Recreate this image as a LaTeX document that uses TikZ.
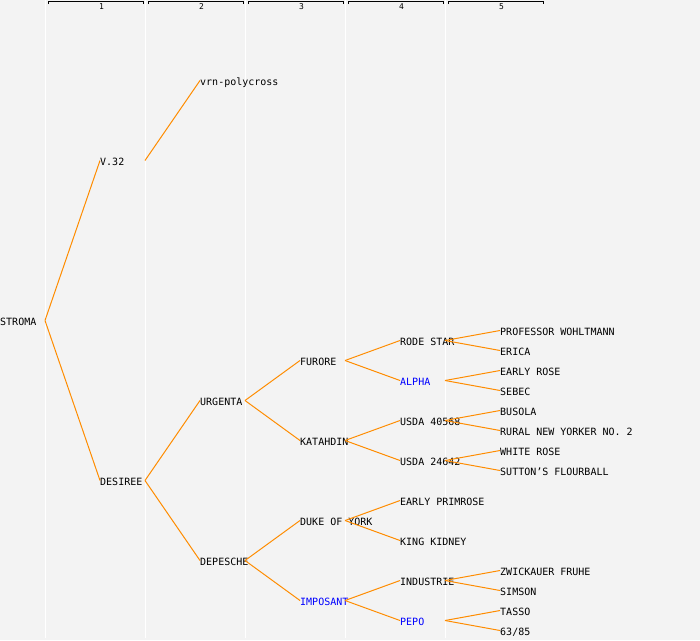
\documentclass[tikz,border=0pt]{standalone}
\usepackage{fontspec}
\setmonofont{DejaVu Sans Mono}
\definecolor{bgGray}{HTML}{F3F3F3}
\definecolor{edgeOrange}{HTML}{FF8C00}
\begin{document}
\begin{tikzpicture}
[x=1pt,y=-1pt,
  lineDecorate/.style={-,line width=1pt,edgeOrange},%
  nodeDecorate/.style={anchor=west,inner sep=0pt,text height=7.3pt,text depth=0pt,
    font=\ttfamily\fontsize{10}{12}\selectfont},
  sepDecorate/.style={white,line width=1pt},
  rulerDecorate/.style={black,line width=1pt},
  rulerText/.style={inner sep=0pt,font=\ttfamily\fontsize{8}{9}\selectfont}]
%% background and page size
\fill[bgGray] (0,0) rectangle (700,640);
\useasboundingbox (0,0) rectangle (700,640);
%% column separators
\foreach \s in {45,145,245,345,445}
{
  \draw[sepDecorate] (\s,0) -- (\s,638);
}
%% generation ruler
\foreach \k in {1,...,5}
{
  \draw[rulerDecorate] (100*\k-52,4) -- (100*\k-52,1.5) -- (100*\k+43,1.5) -- (100*\k+43,4);
  \node (col\k) at (100*\k+1.5,6.5) [rulerText] {\k};
}
%% nodes or varieties
\foreach \nodename/\x/\y/\col/\name in {
  stroma/0/322/black/STROMA,
  v32/100/162/black/V.32, desiree/100/482/black/DESIREE,
  vrn/200/82/black/vrn-polycross, urgenta/200/402/black/URGENTA,
  depesche/200/562/black/DEPESCHE,
  furore/300/362/black/FURORE, katahdin/300/442/black/KATAHDIN,
  duke/300/522/black/DUKE OF YORK, imposant/300/602/blue/IMPOSANT,
  rodestar/400/342/black/RODE STAR, alpha/400/382/blue/ALPHA,
  usdaA/400/422/black/USDA 40568, usdaB/400/462/black/USDA 24642,
  primrose/400/502/black/EARLY PRIMROSE, kidney/400/542/black/KING KIDNEY,
  industrie/400/582/black/INDUSTRIE, pepo/400/622/blue/PEPO,
  wohltmann/500/332/black/PROFESSOR WOHLTMANN, erica/500/352/black/ERICA,
  earlyrose/500/372/black/EARLY ROSE, sebec/500/392/black/SEBEC,
  busola/500/412/black/BUSOLA, rural/500/432/black/RURAL NEW YORKER NO. 2,
  whiterose/500/452/black/WHITE ROSE, sutton/500/472/black/SUTTON’S FLOURBALL,
  zwickauer/500/572/black/ZWICKAUER FRUHE, simson/500/592/black/SIMSON,
  tasso/500/612/black/TASSO, sixtythree/500/632/black/{63/85}}
{
  \node (\nodename) at (\x,\y) [nodeDecorate,text=\col] {\name};
  \coordinate (\nodename-out) at (\x+45,\y-1.5);
}
%% edges or pedigree lines
\path
\foreach \startnode/\endnode in {
  stroma/v32, stroma/desiree, v32/vrn, desiree/urgenta, desiree/depesche,
  urgenta/furore, urgenta/katahdin, depesche/duke, depesche/imposant,
  furore/rodestar, furore/alpha, katahdin/usdaA, katahdin/usdaB,
  duke/primrose, duke/kidney, imposant/industrie, imposant/pepo,
  rodestar/wohltmann, rodestar/erica, alpha/earlyrose, alpha/sebec,
  usdaA/busola, usdaA/rural, usdaB/whiterose, usdaB/sutton,
  industrie/zwickauer, industrie/simson, pepo/tasso, pepo/sixtythree}
{
  (\startnode-out) edge[lineDecorate] ([yshift=1.5pt]\endnode.west)
};
\end{tikzpicture}
\end{document}
